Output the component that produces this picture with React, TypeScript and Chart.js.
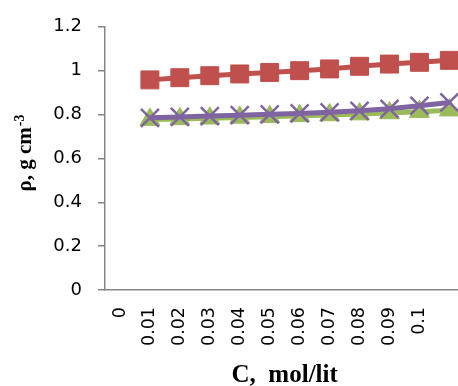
import { useEffect, useRef } from 'react';
import { Chart, registerables } from 'chart.js';

Chart.register(...registerables);

// Concentration categories (the last slot is an unlabeled category)
const concentrations = ['0', '0.01', '0.02', '0.03', '0.04', '0.05', '0.06', '0.07', '0.08', '0.09', '0.1', ''];

// Density values for C = 0.01 ... 0.11 (no measurement at C = 0)
const densityRed = [0.958, 0.968, 0.977, 0.985, 0.992, 1.0, 1.008, 1.02, 1.03, 1.038, 1.047];
const densityGreen = [0.777, 0.78, 0.783, 0.787, 0.79, 0.794, 0.798, 0.802, 0.807, 0.813, 0.82];
const densityPurple = [0.785, 0.789, 0.793, 0.797, 0.801, 0.805, 0.81, 0.817, 0.826, 0.84, 0.855];

const yMin = 0;
const yMax = 1.2;
const yStep = 0.2;

const RED = '#C0504D';
const GREEN = '#9BBB59';
const PURPLE = '#8064A2';
const AXIS = '#868686';

const withEmptyStart = (values: number[]) => [null, ...values];

// Rotated y-axis title with a superscript exponent
const yTitlePlugin = {
  id: 'densityTitle',
  afterDraw(chart: Chart) {
    const ctx = chart.ctx;
    const main = 'ρ, g cm';
    const sup = '-3';
    ctx.save();
    ctx.translate(31, 153.5);
    ctx.rotate(-Math.PI / 2);
    ctx.fillStyle = '#000';
    ctx.textBaseline = 'alphabetic';
    ctx.textAlign = 'left';
    ctx.font = 'bold 21px "Liberation Serif"';
    const w1 = ctx.measureText(main).width;
    ctx.font = 'bold 14px "Liberation Serif"';
    const w2 = ctx.measureText(sup).width;
    const start = -(w1 + w2) / 2;
    ctx.font = 'bold 21px "Liberation Serif"';
    ctx.fillText(main, start, 0);
    ctx.font = 'bold 14px "Liberation Serif"';
    ctx.fillText(sup, start + w1 + 1, -7);
    ctx.restore();
  },
};

export default function App() {
  const canvasRef = useRef<HTMLCanvasElement | null>(null);

  useEffect(() => {
    if (!canvasRef.current) return;
    const chart = new Chart(canvasRef.current, {
      type: 'line',
      data: {
        labels: concentrations,
        datasets: [
          {
            label: 'Series 1',
            data: withEmptyStart(densityRed),
            borderColor: RED,
            backgroundColor: RED,
            borderWidth: 5,
            pointStyle: 'rect',
            pointRadius: 12.7,
            pointBorderWidth: 1,
            pointBorderColor: RED,
            pointBackgroundColor: RED,
            tension: 0,
            order: 3,
          },
          {
            label: 'Series 2',
            data: withEmptyStart(densityGreen),
            borderColor: GREEN,
            backgroundColor: GREEN,
            borderWidth: 5,
            pointStyle: 'triangle',
            pointRadius: 11.5,
            pointBorderWidth: 1,
            pointBorderColor: GREEN,
            pointBackgroundColor: GREEN,
            tension: 0,
            order: 2,
          },
          {
            label: 'Series 3',
            data: withEmptyStart(densityPurple),
            borderColor: PURPLE,
            backgroundColor: PURPLE,
            borderWidth: 5,
            pointStyle: 'crossRot',
            pointRadius: 12.7,
            pointBorderWidth: 2.5,
            pointBorderColor: PURPLE,
            pointBackgroundColor: PURPLE,
            tension: 0,
            order: 1,
          },
        ],
      },
      options: {
        responsive: false,
        animation: false,
        layout: { padding: { top: 24, right: 0, left: 0, bottom: 0 } },
        plugins: {
          legend: { display: false },
          tooltip: { enabled: false },
        },
        scales: {
          x: {
            type: 'category',
            offset: true,
            grid: { display: false, drawTicks: false },
            border: { display: true, color: AXIS, width: 1.5 },
            ticks: {
              autoSkip: false,
              minRotation: 90,
              maxRotation: 90,
              padding: 17,
              color: '#000',
              font: { family: '"DejaVu Sans"', size: 17.5 },
            },
            title: {
              display: true,
              text: 'C,  mol/lit',
              color: '#000',
              font: { family: '"Liberation Serif"', size: 25, weight: 'bold' },
              padding: { top: 0, bottom: -5 },
            },
            afterFit: (scale: any) => {
              scale.height = 96;
            },
          },
          y: {
            min: yMin,
            max: yMax,
            grid: {
              drawOnChartArea: false,
              drawTicks: true,
              tickLength: 7,
              color: AXIS,
              lineWidth: 1.5,
            },
            border: { display: true, color: AXIS, width: 1.5 },
            ticks: {
              stepSize: yStep,
              padding: 16,
              color: '#000',
              font: { family: '"DejaVu Sans"', size: 18 },
              callback: (value: any) => String(Number(Number(value).toFixed(1))),
            },
            afterFit: (scale: any) => {
              scale.width = 105;
            },
          },
        },
      },
      plugins: [yTitlePlugin],
    });
    return () => chart.destroy();
  }, []);

  return (
    <div
      style={{
        position: 'fixed',
        left: 0,
        top: 0,
        width: 458,
        height: 386,
        overflow: 'hidden',
        background: '#fff',
      }}
    >
      <canvas ref={canvasRef} width={488} height={386} style={{ display: 'block' }} />
    </div>
  );
}
